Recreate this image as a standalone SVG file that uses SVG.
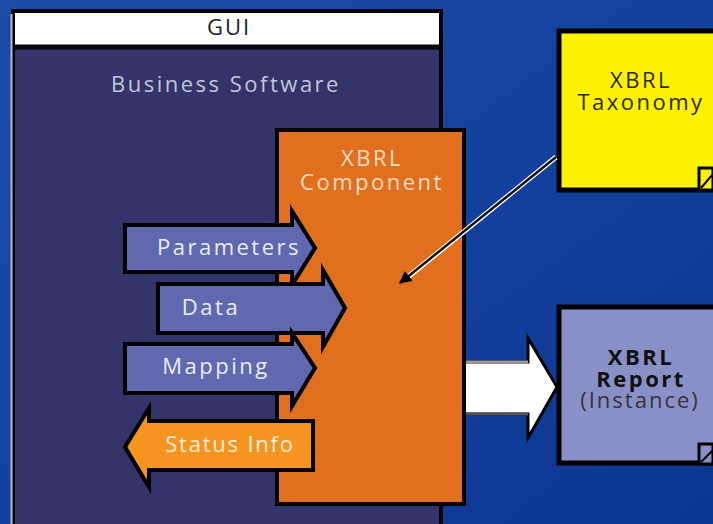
<svg xmlns="http://www.w3.org/2000/svg" width="713" height="524" viewBox="0 0 713 524">
<defs>
<linearGradient id="bg" x1="0" y1="0" x2="1" y2="1">
<stop offset="0" stop-color="#1d4ca8"/>
<stop offset="1" stop-color="#0b3692"/>
</linearGradient>
<marker id="ah" viewBox="0 0 10 10" refX="9" refY="5" markerWidth="5" markerHeight="5" orient="auto-start-reverse" markerUnits="strokeWidth">
<path d="M0,0 L10,5 L0,10 z" fill="#000"/>
</marker>
<style>
text{font-family:"Open Sans","Liberation Sans",sans-serif;text-anchor:middle;font-size:22px;letter-spacing:2.5px}
.lbl{fill:#ececf8}
.arr{fill:#6068b0;stroke:#000;stroke-width:4}
</style>
</defs>
<rect width="713" height="524" fill="url(#bg)"/>

<g id="gui">
<rect x="13" y="11" width="428" height="520" fill="#32346a" stroke="#000" stroke-width="4"/>
<rect x="15" y="13" width="424" height="32" fill="#fff"/>
<line x1="13" y1="47" x2="441" y2="47" stroke="#05070d" stroke-width="5"/>
<line x1="11.5" y1="14" x2="11.5" y2="524" stroke="#b8bcc8" stroke-width="2"/>
<text x="229" y="35" style="fill:#222;letter-spacing:2px">GUI</text>
<text x="226" y="92" style="fill:#c4c6d8">Business Software</text>
</g>

<g id="component">
<rect x="277" y="130" width="187" height="374" fill="#e06f1e" stroke="#000" stroke-width="4"/>
<text x="372" style="fill:#f6dcc4"><tspan x="372" y="166">XBRL</tspan><tspan x="372" y="190">Component</tspan></text>
</g>

<g id="parameters">
<path class="arr" d="M125,225 L292,225 L292,211 L315,248 L292,285 L292,272 L125,272 z"/>
<text class="lbl" x="229" y="255">Parameters</text>
</g>
<g id="data">
<path class="arr" d="M158,284 L323,284 L323,270 L345,308 L323,347 L323,333 L158,333 z"/>
<text class="lbl" x="211" y="315">Data</text>
</g>
<g id="mapping">
<path class="arr" d="M125,344 L292,344 L292,333 L315,368 L292,406 L292,393 L125,393 z"/>
<text class="lbl" x="216" y="374">Mapping</text>
</g>
<g id="status">
<path d="M313,421 L149,421 L149,408 L125,447 L149,487 L149,470 L313,470 z" fill="#f5951f" stroke="#000" stroke-width="4"/>
<text class="lbl" x="230" y="452" style="fill:#fbeedd;letter-spacing:1.8px">Status Info</text>
</g>

<g id="taxonomy">
<rect x="559" y="31" width="170" height="159" fill="#fff200" stroke="#000" stroke-width="5"/>
<path d="M699,168 L713,168 L713,190 L699,190 z" fill="#fff200" stroke="#000" stroke-width="3"/>
<line x1="701" y1="188" x2="713" y2="174" stroke="#000" stroke-width="2"/>
<text x="641" style="fill:#2a2a10"><tspan x="641" y="88">XBRL</tspan><tspan x="641" y="110">Taxonomy</tspan></text>
</g>

<g id="report">
<rect x="559" y="307" width="170" height="156" fill="#8990c8" stroke="#000" stroke-width="5"/>
<path d="M699,444 L713,444 L713,464 L699,464 z" fill="#8990c8" stroke="#000" stroke-width="3"/>
<line x1="701" y1="462" x2="713" y2="450" stroke="#000" stroke-width="2"/>
<text x="641" style="fill:#111"><tspan x="641" y="365" style="font-weight:bold">XBRL</tspan><tspan x="641" y="387" style="font-weight:bold">Report</tspan><tspan x="640" y="408" style="fill:#333;letter-spacing:2px">(Instance)</tspan></text>
</g>

<g id="connectors">
<line x1="556" y1="157" x2="403" y2="281" stroke="#fff" stroke-width="5"/>
<line x1="556" y1="157" x2="400" y2="283" stroke="#111" stroke-width="2.5" marker-end="url(#ah)"/>
<path d="M466,362 L528,362 L528,338 L557,387 L528,438 L528,414 L466,414" fill="#fff" stroke="#000" stroke-width="3"/>
<path d="M466,362 L528,362" stroke="#9a9a9a" stroke-width="3"/>
<path d="M466,414 L528,414" stroke="#555" stroke-width="3"/>
</g>
</svg>
